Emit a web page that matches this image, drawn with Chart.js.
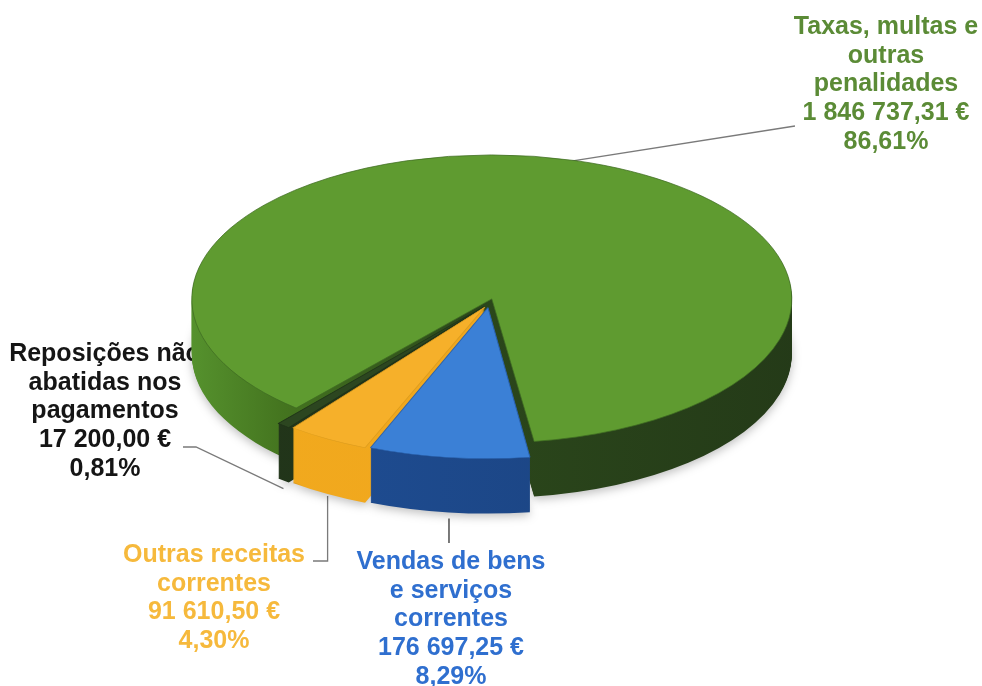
<!DOCTYPE html>
<html lang="pt">
<head>
<meta charset="utf-8">
<title>Receitas correntes</title>
<script src="https://cdn.jsdelivr.net/npm/chart.js@4.4.1/dist/chart.umd.min.js"></script>
<style>
    html, body { margin: 0; padding: 0; background: #ffffff; }
    #wrap { width: 982px; height: 686px; }
</style>
</head>
<body>
<div id="wrap"><canvas id="receitasChart" width="982" height="686"></canvas></div>
<script>
// ================= DADOS =================
const categorias = [
    ['Taxas, multas e', 'outras', 'penalidades'],
    ['Vendas de bens', 'e serviços', 'correntes'],
    ['Outras receitas', 'correntes'],
    ['Reposições não', 'abatidas nos', 'pagamentos']
];
const valores = [1846737.31, 176697.25, 91610.50, 17200.00];

const coresTopo = ['#5f9b30', '#3b80d6', '#f6b02a', '#2c4620'];
const coresBorda = ['#3f6b22', '#2b62ad', '#dc9c1e', '#1f3318'];
const coresTexto = ['#5b8b36', '#2f6fcf', '#f6b93c', '#151515'];

const total = valores.reduce((a, b) => a + b, 0);

// ================= 3D =================
const TILT = 0.48;     // achatamento vertical
const DEPTH = 55;      // espessura em px
const ESCALA = [1, 1.07, 1.07, 1.07];   // fatias da frente parecem maiores (perspetiva)

function formatEuro(v) {
    const partes = v.toFixed(2).split('.');
    return partes[0].replace(/\B(?=(\d{3})+(?!\d))/g, ' ') + ',' + partes[1] + ' €';
}

function formatPct(v) {
    return (v / total * 100).toFixed(2).replace('.', ',') + '%';
}

function corParede(ctx, i) {
    const g = ctx.createLinearGradient(190, 0, 800, 0);
    if (i === 0) {
        g.addColorStop(0, '#55912d');
        g.addColorStop(0.15, '#44741f');
        g.addColorStop(0.45, '#2b471b');
        g.addColorStop(1, '#243a18');
    } else if (i === 1) {
        g.addColorStop(0, '#1f5099');
        g.addColorStop(1, '#1a3f78');
    } else if (i === 2) {
        g.addColorStop(0, '#f2aa1e');
        g.addColorStop(1, '#eea41c');
    } else {
        g.addColorStop(0, '#22361a');
        g.addColorStop(1, '#1f3018');
    }
    return g;
}

// ponto na borda de uma fatia, em coordenadas de ecrã
function pontoBorda(arc, i, ang, prof) {
    const off = (arc.options.offset || 0) / 4;
    const mid = (arc.startAngle + arc.endAngle) / 2;
    const circ = arc.endAngle - arc.startAngle;
    const r = arc.outerRadius + off * (1 - Math.sin(Math.min(Math.PI, circ)));
    const s = ESCALA[i];
    const dx = (Math.cos(mid) * off + Math.cos(ang) * r) * s;
    const dy = (Math.sin(mid) * off + Math.sin(ang) * r) * s;
    return { x: arc.x + dx, y: arc.y + dy * TILT + prof };
}

// posição dos rótulos (como no gráfico original)
const rotulos = [
    { x: 886, y: 27 },
    { x: 451, y: 562 },
    { x: 214, y: 555 },
    { x: 105, y: 354 }
];

function desenharRotulos(chart) {
    const ctx = chart.ctx;
    const arcs = chart.getDatasetMeta(0).data;
    const mid = a => (a.startAngle + a.endAngle) / 2;

    // linhas de chamada
    ctx.save();
    ctx.strokeStyle = '#7a7a7a';
    ctx.lineWidth = 1.3;

    let p = pontoBorda(arcs[0], 0, mid(arcs[0]), 0);
    ctx.beginPath();
    ctx.moveTo(p.x - 8, p.y + 1);
    ctx.lineTo(795, 126);
    ctx.stroke();

    p = pontoBorda(arcs[1], 1, mid(arcs[1]), DEPTH);
    ctx.strokeStyle = '#333333';
    ctx.beginPath();
    ctx.moveTo(p.x, p.y + 6);
    ctx.lineTo(p.x, 543);
    ctx.stroke();

    ctx.strokeStyle = '#7a7a7a';
    p = pontoBorda(arcs[2], 2, mid(arcs[2]), DEPTH);
    ctx.beginPath();
    ctx.moveTo(p.x, p.y + 2);
    ctx.lineTo(p.x, 561);
    ctx.lineTo(313, 561);
    ctx.stroke();

    p = pontoBorda(arcs[3], 3, mid(arcs[3]), DEPTH);
    ctx.beginPath();
    ctx.moveTo(183, 447);
    ctx.lineTo(196, 447);
    ctx.lineTo(p.x, p.y + 8);
    ctx.stroke();
    ctx.restore();

    // textos
    ctx.save();
    ctx.font = 'bold 25px "Liberation Sans", Arial, sans-serif';
    ctx.textAlign = 'center';
    ctx.textBaseline = 'middle';
    categorias.forEach((linhas, i) => {
        const todas = linhas.concat([formatEuro(valores[i]), formatPct(valores[i])]);
        ctx.fillStyle = coresTexto[i];
        todas.forEach((t, j) => {
            ctx.fillText(t, rotulos[i].x, rotulos[i].y + j * 28.7);
        });
    });
    ctx.restore();
}

// desenha um elemento arc no plano achatado, com escala e descida opcionais
function desenharArco(ctx, arc, i, desce, opcoes) {
    const cx = arc.x;
    const cy = arc.y;
    const s = ESCALA[i];
    ctx.save();
    ctx.translate(0, desce);
    ctx.translate(cx, cy);
    ctx.scale(s, s * TILT);
    ctx.translate(-cx, -cy);
    const orig = arc.options;
    if (opcoes) {
        arc.options = Object.assign({}, orig, opcoes);
    }
    arc.draw(ctx);
    arc.options = orig;
    ctx.restore();
}

const pie3d = {
    id: 'pie3d',
    beforeDatasetsDraw(chart) {
        desenharRotulos(chart);

        const ctx = chart.ctx;
        const arcs = chart.getDatasetMeta(0).data;
        const paredes = arcs.map((a, i) => corParede(ctx, i));

        // paredes laterais, de baixo para cima
        for (let d = DEPTH; d >= 1; d--) {
            arcs.forEach((arc, i) => {
                ctx.save();
                if (d === DEPTH) {
                    ctx.shadowColor = 'rgba(0,0,0,0.25)';
                    ctx.shadowBlur = 10;
                    ctx.shadowOffsetY = 3;
                }
                desenharArco(ctx, arc, i, d, { backgroundColor: paredes[i], borderWidth: 0 });
                ctx.restore();
            });
        }

        // topo das fatias
        arcs.forEach((arc, i) => desenharArco(ctx, arc, i, 0, null));

        return false;
    }
};

// ================= GRÁFICO =================
const ctxChart = document.getElementById('receitasChart');

const receitasChart = new Chart(ctxChart, {
    type: 'pie',
    data: {
        labels: categorias,
        datasets: [{
            data: valores,
            backgroundColor: coresTopo,
            borderColor: coresBorda,
            borderWidth: 1,
            offset: [40, 32, 32, 32]
        }]
    },
    options: {
        responsive: false,
        animation: false,
        events: [],
        rotation: 220.4,
        radius: 290,
        layout: { padding: { right: 4, bottom: 79 } },
        plugins: {
            legend: { display: false },
            tooltip: { enabled: false }
        }
    },
    plugins: [pie3d]
});
</script>
</body>
</html>
